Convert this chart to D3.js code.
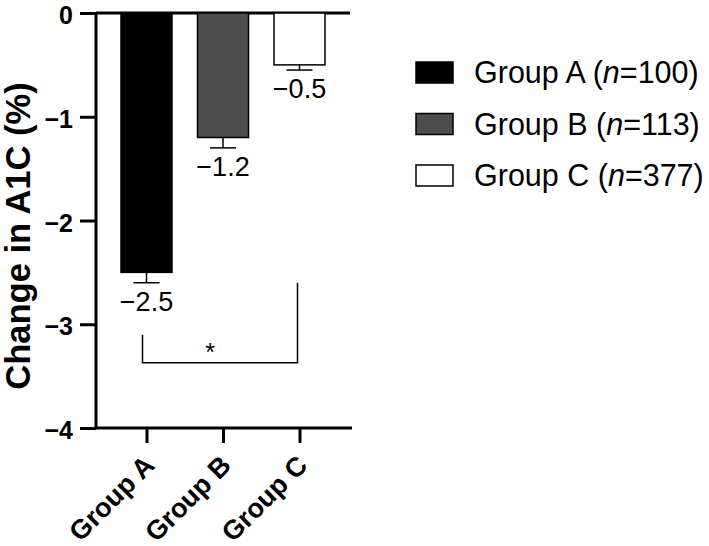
<!DOCTYPE html>
<html>
<head>
<meta charset="utf-8">
<script src="https://cdn.jsdelivr.net/npm/d3@7"></script>
<style>
  body { margin: 0; background: #fff; }
  svg { font-family: "Liberation Sans", Arial, sans-serif; }
</style>
</head>
<body>
<svg width="709" height="546"></svg>
<script>
const groups = ["Group A", "Group B", "Group C"];
const counts = [100, 113, 377];
const changes = [-2.5, -1.2, -0.5];
const errors = [0.1, 0.1, 0.05];
const fills = ["#000000", "#4d4d4d", "#ffffff"];
const yTicks = [0, -1, -2, -3, -4];

const svg = d3.select("svg");

const x = d3.scalePoint()
    .domain(groups)
    .range([146.5, 299.5]);

const y = d3.scaleLinear()
    .domain([0, -4])
    .range([13, 428]);

const barWidth = 51;
const capWidth = 26;

// y axis
const yAxis = svg.append("g")
    .attr("transform", "translate(96,0)")
    .call(d3.axisLeft(y).tickValues(yTicks).tickSize(16).tickPadding(7)
        .tickFormat(d => d === 0 ? "0" : "\u2212" + Math.abs(d)));
yAxis.select(".domain").attr("stroke-width", 3).attr("d", `M0,${y(0)}V${y(-4)}`);
yAxis.selectAll(".tick line").attr("stroke-width", 3);
yAxis.selectAll(".tick text")
    .attr("font-size", 25)
    .attr("font-weight", "bold")
    .attr("fill", "#000")
    .attr("dy", "0.42em");

// zero line
svg.append("line")
    .attr("x1", 96).attr("x2", 350)
    .attr("y1", y(0)).attr("y2", y(0))
    .attr("stroke", "#000").attr("stroke-width", 3);

// x axis at bottom
const xAxis = svg.append("g")
    .attr("transform", `translate(0,${y(-4)})`)
    .call(d3.axisBottom(x).tickSize(15));
xAxis.select(".domain").attr("stroke-width", 3).attr("d", "M96,0H352");
xAxis.selectAll(".tick line").attr("stroke-width", 3);
xAxis.selectAll(".tick text")
    .attr("font-size", 27)
    .attr("font-weight", "bold")
    .attr("fill", "#000")
    .attr("text-anchor", "end")
    .attr("x", 0).attr("y", 0).attr("dy", 0)
    .attr("transform", "translate(9,39) rotate(-45)");

// bars
svg.selectAll("rect.bar")
    .data(groups)
    .enter().append("rect")
    .attr("class", "bar")
    .attr("x", d => x(d) - barWidth / 2)
    .attr("y", y(0))
    .attr("width", barWidth)
    .attr("height", (d, i) => y(changes[i]) - y(0))
    .attr("fill", (d, i) => fills[i])
    .attr("stroke", "#000")
    .attr("stroke-width", 1.5);

// error bars
const err = svg.selectAll("g.err")
    .data(groups)
    .enter().append("g")
    .attr("class", "err");
err.append("line")
    .attr("x1", d => x(d)).attr("x2", d => x(d))
    .attr("y1", (d, i) => y(changes[i]))
    .attr("y2", (d, i) => y(changes[i] - errors[i]))
    .attr("stroke", "#000").attr("stroke-width", 1.5);
err.append("line")
    .attr("x1", d => x(d) - capWidth / 2).attr("x2", d => x(d) + capWidth / 2)
    .attr("y1", (d, i) => y(changes[i] - errors[i]))
    .attr("y2", (d, i) => y(changes[i] - errors[i]))
    .attr("stroke", "#000").attr("stroke-width", 1.5);

// value labels
svg.selectAll("text.val")
    .data(groups)
    .enter().append("text")
    .attr("class", "val")
    .attr("x", d => x(d))
    .attr("y", (d, i) => y(changes[i] - errors[i]) + 28)
    .attr("text-anchor", "middle")
    .attr("font-size", 27)
    .text((d, i) => "\u2212" + Math.abs(changes[i]).toFixed(1));

// significance bracket
const bracketY = y(-3.37);
svg.append("path")
    .attr("d", `M${x("Group A") - 4},${y(-3.1)}V${bracketY}H${x("Group C") - 2}V${y(-2.6)}`)
    .attr("fill", "none")
    .attr("stroke", "#000")
    .attr("stroke-width", 1.5);
svg.append("text")
    .attr("x", (x("Group A") + x("Group C")) / 2 - 13)
    .attr("y", bracketY - 2)
    .attr("text-anchor", "middle")
    .attr("font-size", 25)
    .text("*");

// y axis title
svg.append("text")
    .attr("transform", "translate(30,236) rotate(-90)")
    .attr("text-anchor", "middle")
    .attr("font-size", 34.5)
    .attr("font-weight", "bold")
    .text("Change in A1C (%)");

// legend
const legend = svg.selectAll("g.legend")
    .data(groups)
    .enter().append("g")
    .attr("class", "legend")
    .attr("transform", (d, i) => `translate(416,${62 + i * 51.5})`);
legend.append("rect")
    .attr("width", 37)
    .attr("height", 21)
    .attr("fill", (d, i) => fills[i])
    .attr("stroke", "#000")
    .attr("stroke-width", 1.5);
const lt = legend.append("text")
    .attr("x", 58)
    .attr("y", 21)
    .attr("font-size", 30.5);
lt.append("tspan").text(d => d + " (");
lt.append("tspan").attr("font-style", "italic").text("n");
lt.append("tspan").text((d, i) => "=" + counts[i] + ")");
</script>
</body>
</html>
